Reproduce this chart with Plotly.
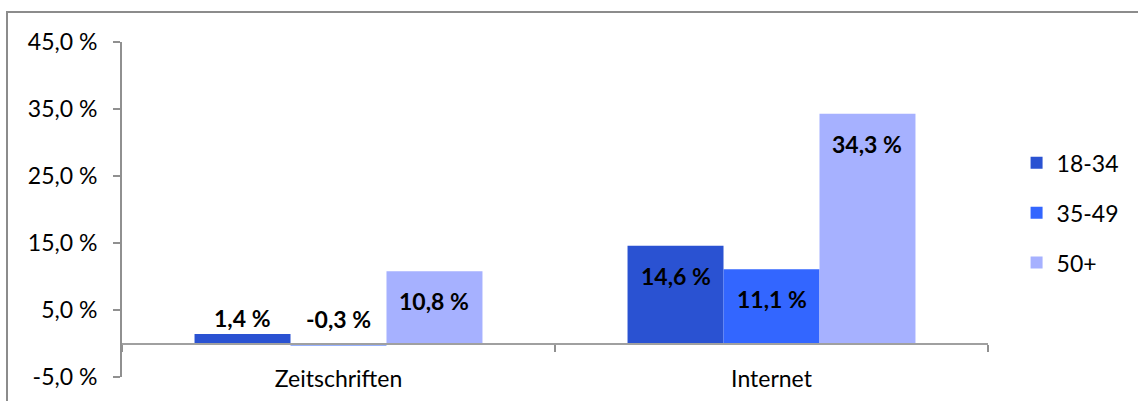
import plotly.graph_objects as go

categories = ["Zeitschriften", "Internet"]
series_names = ["18-34", "35-49", "50+"]
values_18_34 = [1.4, 14.6]
values_35_49 = [-0.3, 11.1]
values_50_plus = [10.8, 34.3]
y_ticks = [-5, 5, 15, 25, 35, 45]

series_values = [values_18_34, values_35_49, values_50_plus]
colors = ["#2a52d2", "#3366ff", "#a6b1ff"]

FONT = "Lato, 'Open Sans', sans-serif"
FS = 23
bargap = 0.335
y_min, y_max = -5, 45

fig = go.Figure()
for name, vals, col in zip(series_names, series_values, colors):
    fig.add_trace(go.Bar(
        x=categories, y=vals, name=name,
        marker=dict(color=col, line=dict(width=0)),
        legendgroup=name,
        hoverinfo="skip",
    ))

# invisible helper trace for the zero-line category axis
fig.add_trace(go.Scatter(x=categories, y=[0, 0], xaxis="x2", mode="none",
                         showlegend=False, hoverinfo="skip"))

def fmt(v):
    return f"{v:.1f}".replace(".", ",") + " %"

plot_h = 401 - 42 - 24
px_per_unit = plot_h / (y_max - y_min)
n = len(series_names)
bw = (1 - bargap) / n
for si, vals in enumerate(series_values):
    off = (si - (n - 1) / 2) * bw
    for ci, v in enumerate(vals):
        if v * px_per_unit > 45:
            y, ys = v, -30
        elif v > 0:
            y, ys = v, 16
        else:
            y, ys = 0, 25
        fig.add_annotation(x=ci + off, y=y, xref="x", yref="y", text=fmt(v),
                           showarrow=False, yshift=ys, yanchor="middle",
                           font=dict(family=FONT, size=FS, color="#000000", weight="bold"))

zero_pos = (0 - y_min) / (y_max - y_min)

fig.update_layout(
    width=1138, height=401,
    margin=dict(l=122, r=150, t=42, b=24, autoexpand=False),
    paper_bgcolor="white", plot_bgcolor="white",
    barmode="group", bargap=bargap, bargroupgap=0,
    font=dict(family=FONT, size=FS, color="#000000"),
    showlegend=True,
    legend=dict(x=1.033, xanchor="left", y=0.49, yanchor="middle",
                font=dict(family=FONT, size=FS, color="#000000"),
                tracegroupgap=17, bgcolor="rgba(0,0,0,0)"),
    xaxis=dict(type="category", categoryorder="array", categoryarray=categories,
               showline=False, ticks="", showgrid=False, zeroline=False,
               ticklabelstandoff=-14, automargin=False,
               tickfont=dict(family=FONT, size=FS, color="#000000")),
    xaxis2=dict(type="category", overlaying="x", matches="x", anchor="free",
                position=zero_pos, showline=True, linecolor="#a0a0a0", linewidth=2,
                ticks="outside", tickson="boundaries", ticklen=7, tickcolor="#909090",
                tickwidth=2, showticklabels=False, showgrid=False, zeroline=False,
                automargin=False),
    yaxis=dict(range=[y_min, y_max], tickvals=y_ticks,
               ticktext=[fmt(t) for t in y_ticks],
               showline=True, linecolor="#909090", linewidth=2,
               ticks="outside", ticklen=7, tickcolor="#909090", tickwidth=2,
               showgrid=False, zeroline=False, ticklabelstandoff=11, automargin=False,
               tickfont=dict(family=FONT, size=FS, color="#000000")),
    shapes=[dict(type="rect", xref="paper", yref="paper",
                 x0=(7 - 122) / 866, x1=1.3, y0=-0.3, y1=1 + (42 - 12) / 335,
                 line=dict(color="#8c8c8c", width=2), fillcolor="rgba(0,0,0,0)", layer="below")],
)

fig.write_html("out.html")
